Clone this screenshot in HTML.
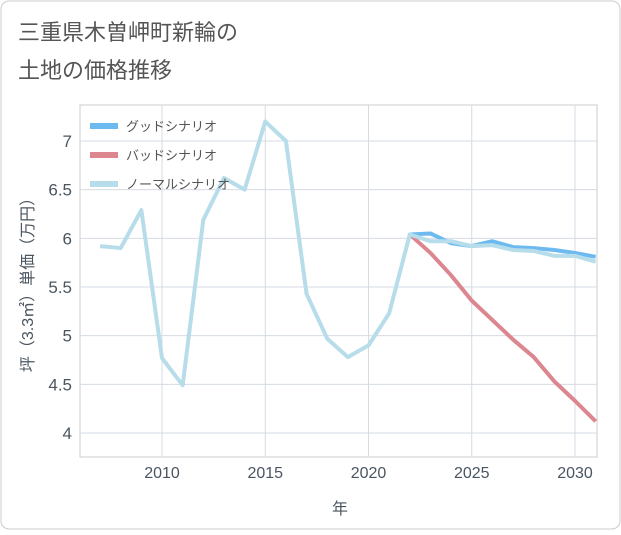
<!DOCTYPE html>
<html><head><meta charset="utf-8"><style>
body{margin:0;background:#fff;font-family:"Liberation Sans","Noto Sans CJK JP",sans-serif;}
</style></head><body>
<svg width="621" height="530" xmlns="http://www.w3.org/2000/svg" font-family="Liberation Sans, Noto Sans CJK JP, sans-serif">
<rect x="1" y="1" width="619" height="528" rx="8" fill="#fff" stroke="#ccc"/>
<text x="18" y="40" font-size="22" fill="#555">三重県木曽岬町新輪の</text>
<text x="18" y="78" font-size="22" fill="#555">土地の価格推移</text>
<g id="grid"></g>
<g id="series"></g>
<g id="legend"></g>
<text x="340" y="514" font-size="16" fill="#4a5560" text-anchor="middle">年</text>
<text transform="translate(33,281) rotate(-90)" font-size="16" fill="#4a5560" text-anchor="middle">坪（3.3㎡）単価（万円）</text>
</svg>
<script>
const years=[2007,2008,2009,2010,2011,2012,2013,2014,2015,2016,2017,2018,2019,2020,2021,2022,2023,2024,2025,2026,2027,2028,2029,2030,2031];
const normal=[5.92,5.90,6.29,4.77,4.49,6.19,6.62,6.50,7.20,7.00,5.43,4.97,4.78,4.90,5.23,6.04,5.97,5.97,5.92,5.93,5.88,5.87,5.82,5.82,5.76];
const goodYears=[2022,2023,2024,2025,2026,2027,2028,2029,2030,2031];
const good=[6.04,6.05,5.95,5.92,5.97,5.91,5.90,5.88,5.85,5.81];
const bad=[6.04,5.85,5.62,5.36,5.16,4.96,4.78,4.53,4.33,4.12];
const xTicks=[2010,2015,2020,2025,2030];
const yTicks=[4,4.5,5,5.5,6,6.5,7];
const L=80,R=597,T=105,B=457;
const x=v=>162+(v-2010)*20.65;
const y=v=>141+(7-v)*97.33;
const NS="http://www.w3.org/2000/svg";
function mk(tag,attrs,parent){const e=document.createElementNS(NS,tag);for(const k in attrs)e.setAttribute(k,attrs[k]);parent.appendChild(e);return e;}
const g=document.getElementById('grid');
const gr=mk('rect',{x:L,y:T,width:R-L,height:B-T,fill:'none',stroke:'#ccc'},g);


xTicks.forEach(t=>{const l=mk('line',{x1:x(t),x2:x(t),y1:T,y2:B,stroke:'#d5dbe3'},g);


const tx=mk('text',{x:x(t),y:B+21,'font-size':16,fill:'#4a5560','text-anchor':'middle'},g);tx.textContent=t;

});
yTicks.forEach(t=>{const l=mk('line',{x1:L,x2:R,y1:y(t),y2:y(t),stroke:'#d5dbe3'},g);


const tx=mk('text',{x:L-8,y:y(t)+6,'font-size':17,fill:'#4a5560','text-anchor':'end'},g);tx.textContent=t;

});
const s=document.getElementById('series');
function line(xs,vs,color,name){const p=mk('polyline',{points:xs.map((yr,i)=>x(yr)+','+y(vs[i])).join(' '),fill:'none',stroke:color,'stroke-width':4,'stroke-linejoin':'round'},s);

}
const cl=mk('clipPath',{id:'c'},s);mk('rect',{x:L,y:T,width:R-L,height:B-T},cl);s.setAttribute('clip-path','url(#c)');
line(goodYears,good,'#6cbaf0','good-scenario-line');
line(goodYears,bad,'#dc8790','bad-scenario-line');
line(years,normal,'#b7dcea','normal-scenario-line');
const lg=document.getElementById('legend');
[['グッドシナリオ','#6cbaf0'],['バッドシナリオ','#dc8790'],['ノーマルシナリオ','#b7dcea']].forEach((d,i)=>{
const yy=126+i*29;
const l=mk('line',{x1:90,x2:118,y1:yy,y2:yy,stroke:d[1],'stroke-width':6},lg);


const t=mk('text',{x:126,y:yy+5,'font-size':13,fill:'#555'},lg);t.textContent=d[0];

});
</script>
</body></html>
